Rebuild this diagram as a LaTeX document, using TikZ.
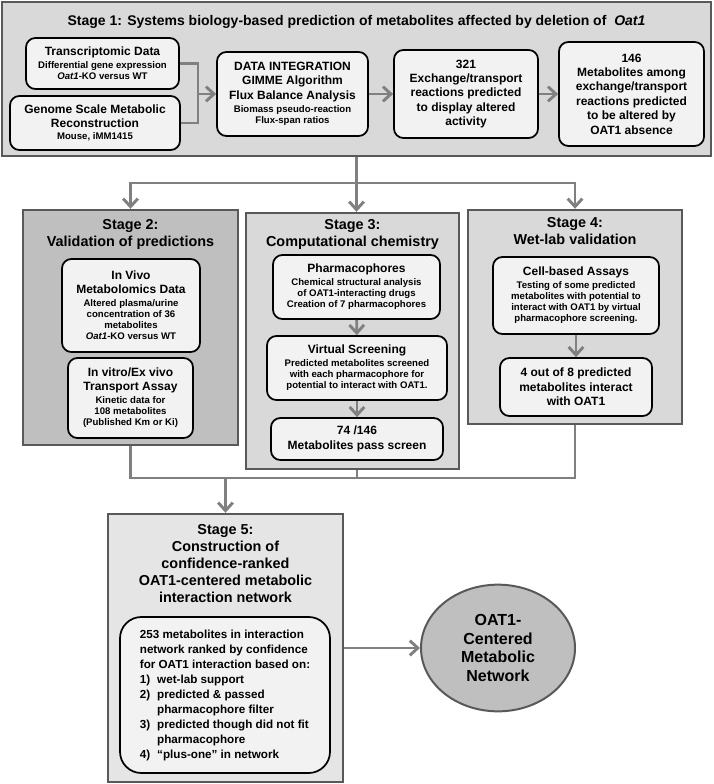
\documentclass[tikz,border=0pt]{standalone}
\usepackage{fontspec}
\setmainfont{Liberation Sans}
\usetikzlibrary{shapes.geometric}
\usetikzlibrary{arrows.meta}

\newcommand\headfont{\fontsize{9}{10.8}\selectfont}
\newcommand\bodyfont{\fontsize{7.2}{8.4}\selectfont}
\newcommand\stagefont{\fontsize{10.8}{12.7}\selectfont}

\colorlet{framegray}{black!65}
\colorlet{linkgray}{black!50}

\tikzset{
  boxsize/.style 2 args={minimum width=#1*0.75pt, minimum height=#2*0.75pt},
  stagebox/.style={draw=framegray, line width=1.8pt, inner sep=0pt},
  itembox/.style={draw=black, line width=1.3pt, rounded corners=7pt, fill=black!5,
    inner sep=0pt, align=center, font=\bfseries\bodyfont},
  bigbox/.style={itembox, font=\bfseries\headfont},
  stagetitle/.style={align=center, font=\bfseries\stagefont, inner sep=0pt},
  link/.style={draw=linkgray, line width=2.2pt},
  flow/.style={link, -{Straight Barb[length=6pt,width=11pt]}},
}

\begin{document}
\begin{tikzpicture}[x=0.75pt, y=-0.75pt]
\useasboundingbox (0,0) rectangle (713,784);

% Stage 1: systems biology prediction
\node[stagebox, fill=black!15, boxsize={709}{154}] (stage1) at (356.5,79) {};
\node[stagetitle, font=\bfseries\fontsize{10.5}{12.7}\selectfont] (s1title) at (356.5,22)
  {Stage 1: Systems biology-based prediction of metabolites affected by deletion of \ \textit{Oat1}};
\node[itembox, boxsize={153}{51}] (trans) at (102.5,63.5)
  {{\headfont Transcriptomic Data}\\[1pt] Differential gene expression\\ \textit{Oat1}-KO versus WT};
\node[itembox, boxsize={170}{54}] (geno) at (95,123)
  {{\headfont Genome Scale Metabolic}\\[2pt] {\headfont Reconstruction}\\[1pt] Mouse, iMM1415};
\node[itembox, boxsize={151}{84}] (integ) at (292.5,94)
  {{\headfont DATA INTEGRATION}\\[2pt] {\headfont GIMME Algorithm}\\[2pt]
   {\headfont Flux Balance Analysis}\\[1pt] Biomass pseudo-reaction\\ Flux-span ratios};
\node[bigbox, boxsize={144}{88}] (rxn) at (466,94)
  {321\\ Exchange/transport\\ reactions predicted\\ to display altered\\ activity};
\node[bigbox, boxsize={145}{104}] (mets) at (631.5,94)
  {146\\ Metabolites among\\ exchange/transport\\ reactions predicted\\ to be altered by\\ OAT1 absence};

% Stage 2: validation
\node[stagebox, fill=black!25, boxsize={215}{235}] (stage2) at (130.5,327.5) {};
\node[stagetitle] (s2title) at (130.5,234.5) {Stage 2:\\ Validation of predictions};
\node[itembox, boxsize={138}{93}] (vivo) at (131,305.5)
  {{\headfont In Vivo}\\[2pt] {\headfont Metabolomics Data}\\[1pt] Altered plasma/urine\\
   concentration of 36\\ metabolites\\ \textit{Oat1}-KO versus WT};
\node[itembox, boxsize={125}{80}] (vitro) at (130.5,398)
  {{\headfont In vitro/Ex vivo}\\[2pt] {\headfont Transport Assay}\\[1pt] Kinetic data for\\
   108 metabolites\\ (Published Km or Ki)};

% Stage 3: computational chemistry
\node[stagebox, fill=black!15, boxsize={213}{256}] (stage3) at (352.5,341) {};
\node[stagetitle] (s3title) at (352.5,234.5) {Stage 3:\\ Computational chemistry};
\node[itembox, boxsize={167}{64}] (pharm) at (356.5,287)
  {{\headfont Pharmacophores}\\[1pt] Chemical structural analysis\\ of OAT1-interacting drugs\\
   Creation of 7 pharmacophores};
\node[itembox, boxsize={180}{64}] (screen) at (357,368)
  {{\headfont Virtual Screening}\\[1pt] Predicted metabolites screened\\ with each pharmacophore for\\
   potential to interact with OAT1.};
\node[bigbox, boxsize={172}{42}] (pass) at (357,439) {74 /146\\ Metabolites pass screen};

% Stage 4: wet-lab
\node[stagebox, fill=black!15, boxsize={214}{214}] (stage4) at (575,317) {};
\node[stagetitle] (s4title) at (575,231.5) {Stage 4:\\ Wet-lab validation};
\node[itembox, boxsize={166}{77}] (cell) at (576,295.5)
  {{\headfont Cell-based Assays}\\[1pt] Testing of some predicted\\ metabolites with potential to\\
   interact with OAT1 by virtual\\ pharmacophore screening.};
\node[bigbox, boxsize={152}{58}] (four) at (576,387)
  {4 out of 8 predicted\\ metabolites interact\\ with OAT1};

% Stage 5: network
\node[stagebox, fill=black!10, boxsize={235}{268}] (stage5) at (225.5,648) {};
\node[stagetitle] (s5title) at (225.5,563.5)
  {Stage 5:\\ Construction of\\ confidence-ranked\\ OAT1-centered metabolic\\ interaction network};
\node[itembox, rounded corners=16pt, boxsize={210}{156}, align=left,
  font=\bfseries\fontsize{8.75}{11.25}\selectfont] (rank) at (225,695)
  {253 metabolites in interaction\\ network ranked by confidence\\ for OAT1 interaction based on:\\
   \makebox[13pt][l]{1)}wet-lab support\\
   \makebox[13pt][l]{2)}predicted \& passed\\ \hspace*{13pt}pharmacophore filter\\
   \makebox[13pt][l]{3)}predicted though did not fit\\ \hspace*{13pt}pharmacophore\\
   \makebox[13pt][l]{4)}“plus-one” in network};
\node[ellipse, draw=framegray, line width=1.5pt, fill=black!25, minimum width=115.5pt,
  minimum height=95pt, inner sep=0pt, align=center, font=\bfseries\fontsize{12}{14}\selectfont]
  (net) at (498,648) {OAT1-\\ Centered\\ Metabolic\\ Network};

% connectors
\coordinate (join) at (198,94);
\draw[link] (trans.east) -| (join) |- (geno.east);
\draw[flow] (join) -- (integ.west);
\draw[flow] (integ.east) -- (rxn.west);
\draw[flow] (rxn.east) -- (mets.west);

\coordinate (split) at (356.5,183);
\draw[flow] (stage1.south) -- (stage1.south |- stage3.north);
\draw[flow] (split) -| (stage2.north);
\draw[flow] (split) -| (stage4.north);

\draw[flow] (pharm) -- (screen);
\draw[flow] (screen) -- (pass);
\draw[flow] (cell) -- (four);

\coordinate (merge) at (225.5,478);
\draw[link] (stage2.south) |- (stage4.south |- merge) -- (stage4.south);
\draw[link] (pass.south |- stage3.south) -- (pass.south |- merge);
\draw[flow] (merge) -- (stage5.north);
\draw[flow] (stage5.east) -- (net.west);
\end{tikzpicture}
\end{document}
